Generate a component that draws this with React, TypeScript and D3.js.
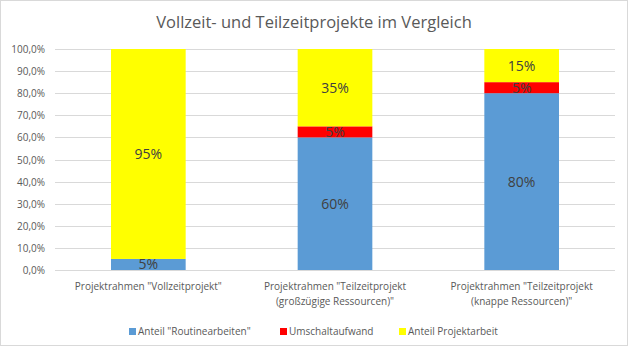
import React from "react";
import * as d3 from "d3";

const categories = [
  ['Projektrahmen "Vollzeitprojekt"'],
  ['Projektrahmen "Teilzeitprojekt', '(großzügige Ressourcen)"'],
  ['Projektrahmen "Teilzeitprojekt', '(knappe Ressourcen)"'],
];
const seriesNames = ['Anteil "Routinearbeiten"', "Umschaltaufwand", "Anteil Projektarbeit"];
const seriesColors = ["#5b9bd5", "#ff0000", "#ffff00"];
const routine = [0.05, 0.6, 0.8];
const umschalt = [0, 0.05, 0.05];
const projekt = [0.95, 0.35, 0.15];
const yTicks = [0, 0.1, 0.2, 0.3, 0.4, 0.5, 0.6, 0.7, 0.8, 0.9, 1.0];

const W = 629, H = 347;
const FONT = "'Open Sans', sans-serif";

export default function App() {
  const x = d3.scaleBand<number>().domain([0, 1, 2]).range([55, 615]).paddingInner(0.6).paddingOuter(0.3);
  const y = d3.scaleLinear().domain([0, 1]).range([270, 49]);
  const series = [routine, umschalt, projekt];
  const rows = categories.map((_, i) => ({ i, s0: routine[i], s1: umschalt[i], s2: projekt[i] }));
  const stacked = d3.stack<any>().keys(["s0", "s1", "s2"])(rows);
  const fmt = (v: number) => d3.format(".1f")(v * 100).replace(".", ",") + "%";
  const legendX = [129, 280, 399];

  return (
    <svg width={W} height={H} style={{ position: "absolute", left: 0, top: 0, background: "#fff" }} fontFamily={FONT}>
      <rect x={0.5} y={0.5} width={W - 2} height={H - 2} fill="#fff" stroke="#d9d9d9" />
      <text x={314} y={28} textAnchor="middle" fontSize={16.5} fill="#595959">
        Vollzeit- und Teilzeitprojekte im Vergleich
      </text>
      {yTicks.map((t) => (
        <g key={t}>
          <line x1={55} x2={615} y1={Math.round(y(t)) + 0.5} y2={Math.round(y(t)) + 0.5} stroke="#d9d9d9" />
          <text x={45} y={y(t) + 4} textAnchor="end" fontSize={10} fill="#595959">
            {fmt(t)}
          </text>
        </g>
      ))}
      {stacked.map((layer, si) => (
        <g key={si}>
          {layer.map((d, i) => {
            const v = series[si][i];
            if (v <= 0) return null;
            const y0 = y(d[0]), y1 = y(d[1]);
            return (
              <g key={i}>
                <rect x={x(i)} y={y1} width={x.bandwidth()} height={y0 - y1} fill={seriesColors[si]} />
                <text x={(x(i) as number) + x.bandwidth() / 2} y={(y0 + y1) / 2 + 5} textAnchor="middle" fontSize={14} fill="#404040">
                  {Math.round(v * 100) + "%"}
                </text>
              </g>
            );
          })}
        </g>
      ))}
      {categories.map((lines, i) => (
        <text key={i} textAnchor="middle" fontSize={10} fill="#595959">
          {lines.map((l, j) => (
            <tspan key={j} x={(x(i) as number) + x.bandwidth() / 2} y={290 + j * 15}>
              {l}
            </tspan>
          ))}
        </text>
      ))}
      {seriesNames.map((n, i) => (
        <g key={n}>
          <rect x={legendX[i]} y={328} width={7} height={7} fill={seriesColors[i]} />
          <text x={legendX[i] + 9} y={335} fontSize={10} fill="#595959">
            {n}
          </text>
        </g>
      ))}
    </svg>
  );
}
